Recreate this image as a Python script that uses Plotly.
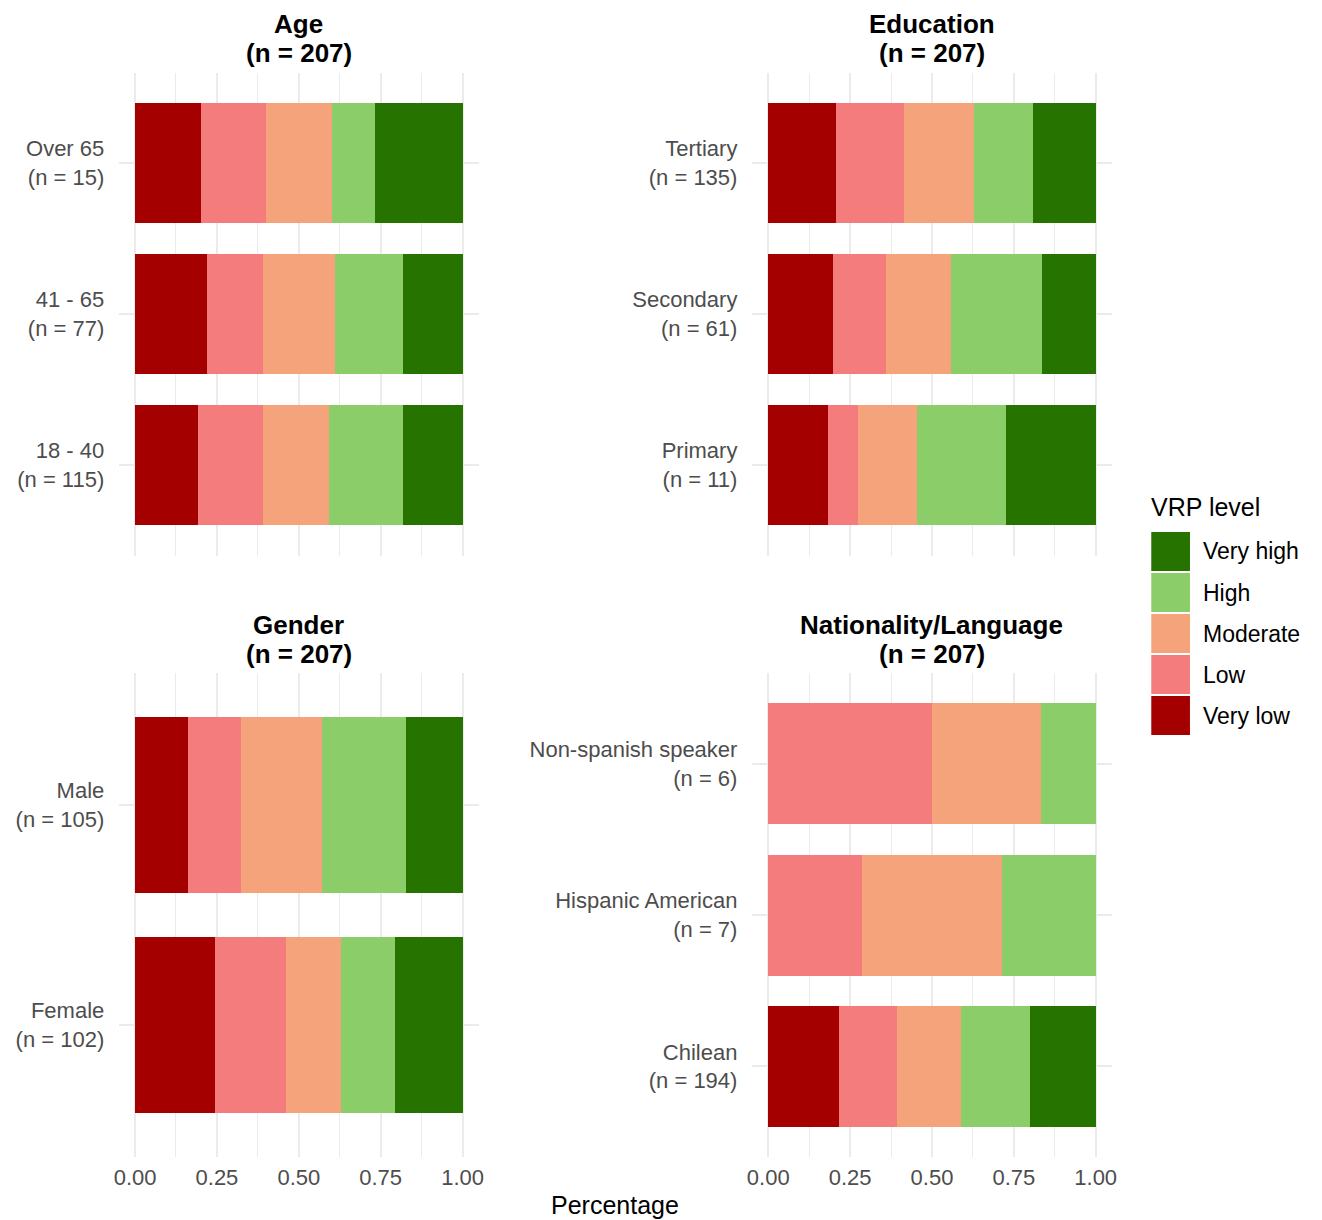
import plotly.graph_objects as go

# the page has an 8px body margin, so the figure is drawn 8px in and kept inside the window
OFF = 8
W, H = 1322 - OFF, 1220 - OFF

levels = ['Very low', 'Low', 'Moderate', 'High', 'Very high']
level_colors = ['#a50000', '#f47c7c', '#f4a37b', '#8bcd69', '#267300']

# categories listed bottom to top; counts per row in level order (Very low .. Very high)
age_labels = ['18 - 40<br>(n = 115)', '41 - 65<br>(n = 77)', 'Over 65<br>(n = 15)']
age_counts = [[22, 23, 23, 26, 21], [17, 13, 17, 16, 14], [3, 3, 3, 2, 4]]

edu_labels = ['Primary<br>(n = 11)', 'Secondary<br>(n = 61)', 'Tertiary<br>(n = 135)']
edu_counts = [[2, 1, 2, 3, 3], [12, 10, 12, 17, 10], [28, 28, 29, 24, 26]]

gender_labels = ['Female<br>(n = 102)', 'Male<br>(n = 105)']
gender_counts = [[25, 22, 17, 17, 21], [17, 17, 26, 27, 18]]

nat_labels = ['Chilean<br>(n = 194)', 'Hispanic American<br>(n = 7)', 'Non-spanish speaker<br>(n = 6)']
nat_counts = [[42, 34, 38, 41, 39], [0, 2, 3, 2, 0], [0, 3, 2, 1, 0]]

x_ticks = [0, 0.25, 0.5, 0.75, 1]

FONT = 'Liberation Sans, Arial, sans-serif'
TICK_COLOR = '#4d4d4d'
GRID = '#ebebeb'


def px_x(x):
    return (x - OFF) / W


def px_y(y):
    return 1 - (y - OFF) / H


panels = [
    ('Age', age_labels, age_counts, 1, (114.5, 477.5), (72.5, 555.5), False),
    ('Education', edu_labels, edu_counts, 2, (752.5, 1115.5), (72.5, 555.5), False),
    ('Gender', gender_labels, gender_counts, 3, (114.5, 477.5), (673, 1157), True),
    ('Nationality/Language', nat_labels, nat_counts, 4, (752.5, 1115.5), (673, 1157), True),
]

fig = go.Figure()
annotations = []

for title, labels, counts, k, (x0, x1), (y0, y1), show_x in panels:
    suffix = '' if k == 1 else str(k)
    for j, level in enumerate(levels):
        fig.add_trace(go.Bar(
            x=[row[j] for row in counts],
            y=labels,
            orientation='h',
            name=level,
            marker_color=level_colors[j],
            marker_line_width=0,
            showlegend=False,
            xaxis='x' + suffix,
            yaxis='y' + suffix,
        ))

    fig.update_layout({
        'xaxis' + suffix: dict(
            domain=[px_x(x0), px_x(x1)], anchor='y' + suffix,
            range=[-0.05, 1.05], tickvals=x_ticks, tickformat='.2f',
            showticklabels=show_x, showgrid=True, gridcolor=GRID, gridwidth=1.6,
            minor=dict(dtick=0.125, tick0=0, showgrid=True, gridcolor=GRID, gridwidth=0.8),
            zeroline=False, showline=False,
            ticks='outside', ticklen=1, tickcolor='rgba(0,0,0,0)',
            tickfont=dict(family=FONT, size=22, color=TICK_COLOR),
        ),
        'yaxis' + suffix: dict(
            domain=[px_y(y1), px_y(y0)], anchor='x' + suffix,
            type='category', range=[-0.6, len(labels) - 0.4],
            showgrid=True, gridcolor=GRID, gridwidth=1.6,
            zeroline=False, showline=False,
            ticks='outside', ticklen=9, tickcolor='rgba(0,0,0,0)',
            tickfont=dict(family=FONT, size=22, color=TICK_COLOR),
        ),
    })

    # facet strip title, one annotation per line to keep the tight line spacing
    for text, y_line in ((title, y0 - 48.5), ('(n = 207)', y0 - 19.5)):
        annotations.append(dict(
            text='<b>%s</b>' % text,
            xref='paper', yref='paper',
            x=px_x((x0 + x1) / 2), y=px_y(y_line),
            xanchor='center', yanchor='middle', showarrow=False,
            font=dict(family=FONT, size=26, color='#000000'),
        ))

annotations.append(dict(
    text='Percentage', xref='paper', yref='paper',
    x=px_x(615), y=px_y(1205), xanchor='center', yanchor='middle',
    showarrow=False, font=dict(family=FONT, size=25, color='#000000'),
))

# legend drawn by hand so the keys can be large, as in the reference
shapes = []
annotations.append(dict(
    text='VRP level', xref='paper', yref='paper',
    x=px_x(1153), y=px_y(507), xanchor='left', yanchor='middle',
    showarrow=False, font=dict(family=FONT, size=25, color='#000000'),
))
key_top = 532
key_step = 41
for i, (level, color) in enumerate(zip(levels[::-1], level_colors[::-1])):
    top = key_top + i * key_step
    shapes.append(dict(
        type='rect', xref='paper', yref='paper',
        x0=px_x(1155), x1=px_x(1194), y0=px_y(top + 39), y1=px_y(top),
        fillcolor=color, line=dict(width=0),
    ))
    annotations.append(dict(
        text=level, xref='paper', yref='paper',
        x=px_x(1205), y=px_y(top + 19.5), xanchor='left', yanchor='middle',
        showarrow=False, font=dict(family=FONT, size=23, color='#000000'),
    ))

fig.update_layout(
    width=W, height=H,
    margin=dict(l=0, r=0, t=0, b=0),
    barmode='stack', barnorm='fraction', bargap=0.2,
    plot_bgcolor='white', paper_bgcolor='white',
    font=dict(family=FONT),
    annotations=annotations,
    shapes=shapes,
    showlegend=False,
)

fig.write_html('out.html')
